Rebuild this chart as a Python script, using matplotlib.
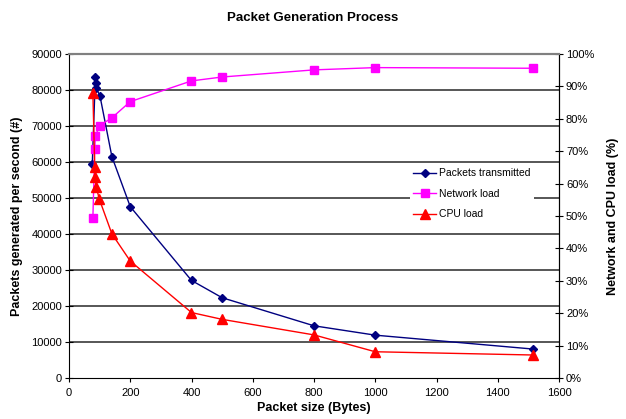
import matplotlib
matplotlib.use("Agg")
import matplotlib.pyplot as plt

plt.rcParams['font.family'] = ['Liberation Sans', 'DejaVu Sans']

# packets transmitted (left axis)
pkt_size = [76, 86, 88, 89, 101, 140, 200, 400, 500, 800, 1000, 1514]
pkt_rate = [59400, 83500, 81900, 80500, 78400, 61500, 47600, 27100, 22300, 14500, 11900, 8050]

# network load (right axis, %)
net_size = [78, 84, 86, 100, 140, 200, 400, 500, 800, 1000, 1514]
net_load = [49.5, 70.6, 74.6, 77.9, 80.3, 85.3, 91.7, 92.9, 95.1, 95.8, 95.6]

# cpu load (right axis, %)
cpu_size = [78, 84, 86, 89, 99, 140, 200, 400, 500, 800, 1000, 1514]
cpu_load = [87.9, 65.2, 61.9, 58.9, 55.2, 44.5, 36.1, 20.2, 18.1, 13.3, 8.1, 7.1]

xticks = [0, 200, 400, 600, 800, 1000, 1200, 1400, 1600]
yticks = [0, 10000, 20000, 30000, 40000, 50000, 60000, 70000, 80000, 90000]
pticks = [0, 10, 20, 30, 40, 50, 60, 70, 80, 90, 100]

fig = plt.figure(figsize=(6.26, 4.19), dpi=100)
ax = fig.add_axes([69/626, 1-378/419, 490/626, 324/419])
ax2 = ax.twinx()

for y in yticks[1:-1]:
    ax.axhline(y, color='#3a3a3a', lw=1.2, zorder=0)

l1, = ax.plot(pkt_size, pkt_rate, color='#000080', marker='D', ms=4.5, lw=1, zorder=3)
l2, = ax2.plot(net_size, net_load, color='#ff00ff', marker='s', ms=6, lw=1)
l3, = ax2.plot(cpu_size, cpu_load, color='#ff0000', marker='^', ms=6.5, lw=1)

ax.set_xlim(0, 1600)
ax.set_ylim(0, 90000)
ax2.set_ylim(0, 100)
ax.set_xticks(xticks)
ax.set_yticks(yticks)
ax2.set_yticks(pticks)
ax2.set_yticklabels([f'{p}%' for p in pticks])

ax.tick_params(axis='y', direction='inout', length=6, labelsize=8, colors='black', pad=2)
ax.tick_params(axis='x', direction='out', length=3, labelsize=8, pad=4)
ax2.tick_params(axis='y', direction='inout', length=6, labelsize=8, pad=2)

for a in (ax, ax2):
    a.spines['top'].set_color('#808080')
    a.spines['top'].set_linewidth(1.5)
ax2.spines['left'].set_visible(False)
ax2.spines['bottom'].set_visible(False)

ax.set_xlabel('Packet size (Bytes)', fontsize=9, fontweight='bold', labelpad=3)
ax.set_ylabel('Packets generated per second (#)', fontsize=9, fontweight='bold', labelpad=6)
ax2.set_ylabel('Network and CPU load (%)', fontsize=9, fontweight='bold', labelpad=9)
fig.text(0.5, 1-18/419, 'Packet Generation Process', ha='center', va='center',
         fontsize=9.5, fontweight='bold')

leg = ax2.legend([l1, l2, l3], ['Packets transmitted', 'Network load', 'CPU load'],
                 loc='upper left', bbox_to_anchor=((405-69)/490, 1-(160-54)/324),
                 fontsize=7.5, frameon=True, fancybox=False, edgecolor='none',
                 facecolor='white', framealpha=1, handlelength=2.2,
                 handletextpad=0.3, labelspacing=1.0, borderpad=0.3)

fig.savefig('out.png', dpi=100)
